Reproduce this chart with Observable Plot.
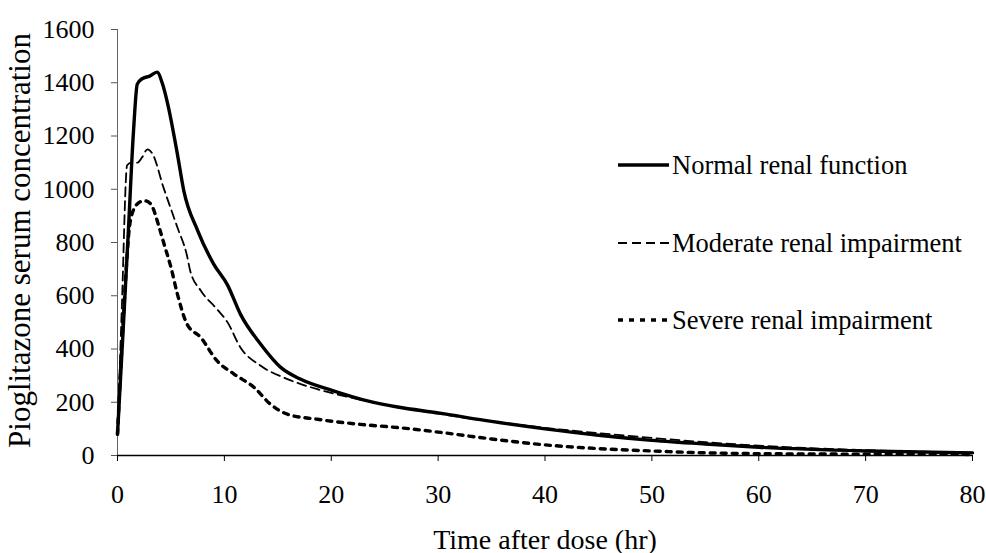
<!DOCTYPE html>
<html><head><meta charset="utf-8">
<script src="https://cdn.jsdelivr.net/npm/d3@7"></script>
<script src="https://cdn.jsdelivr.net/npm/@observablehq/plot@0.6"></script>
<style>
body{margin:0;background:#fff;}
#wrap{position:relative;width:986px;height:553px;font-family:"Liberation Serif","Times New Roman",serif;color:#000;}
.item{position:absolute;left:618px;height:30px;display:flex;align-items:center;white-space:nowrap;font-size:26.5px;}
.item svg{display:block;margin-right:3px;}
</style></head>
<body><div id="wrap"><div id="chart"></div></div>
<script>
// ---- data ----
const seriesNames = ["Normal renal function", "Moderate renal impairment", "Severe renal impairment"];

const normalTime = [0, 0.5, 1, 1.5, 1.85, 2.3, 3.0, 3.7, 4.2, 4.7, 5.6, 6.2, 7.5, 9.0, 10.3, 11.5, 13.4, 15.3, 17.1, 20.2, 23.4, 26.2, 30, 35, 40, 45, 50, 55, 60, 70, 80];
const normalConc = [80, 450, 830, 1220, 1395, 1415, 1425, 1440, 1397, 1320, 1133, 995, 845, 719, 640, 531, 418, 330, 287, 243, 205, 182, 160, 128, 100, 76, 57, 43, 31, 17, 10];

const moderateTime = [0, 0.4, 0.9, 1.3, 1.85, 2.3, 2.8, 3.25, 4.3, 5.6, 6.5, 6.8, 7.8, 9.3, 10.3, 11.5, 13.4, 15.9, 18.7, 21.8, 26.2, 30, 35, 40, 45, 50, 55, 60, 70, 80];
const moderateConc = [80, 550, 1090, 1100, 1100, 1120, 1150, 1135, 1007, 857, 751, 694, 619, 550, 500, 406, 337, 287, 249, 218, 182, 157, 128, 104, 84, 66, 50, 37, 20, 11];

const severeTime = [0, 0.5, 1.2, 1.85, 2.5, 3.1, 3.9, 4.35, 5.0, 5.6, 6.5, 7.8, 9.3, 10.9, 12.8, 14.3, 15.9, 18.7, 22.7, 26.2, 30, 35, 40, 45, 50, 55, 60, 70, 80];
const severeConc = [80, 480, 880, 945, 957, 945, 857, 795, 707, 607, 494, 443, 356, 306, 255, 193, 155, 136, 117, 105, 88, 62, 40, 26, 17, 10, 7, 5, 4];

const xTicks = [0, 10, 20, 30, 40, 50, 60, 70, 80];
const yTicks = [0, 200, 400, 600, 800, 1000, 1200, 1400, 1600];
const xLabel = "Time after dose (hr)";
const yLabel = "Pioglitazone serum concentration";

// ---- build table ----
const pairs = [[normalTime, normalConc], [moderateTime, moderateConc], [severeTime, severeConc]];
const rows = pairs.flatMap(([ts, cs], i) => ts.map((t, j) => ({series: seriesNames[i], t, c: cs[j]})));

const styles = {
  "Normal renal function": {strokeWidth: 3.4, dash: null},
  "Moderate renal impairment": {strokeWidth: 1.8, dash: "9,5"},
  "Severe renal impairment": {strokeWidth: 3.4, dash: "5,6"}
};

const lineMarks = seriesNames.map(name => Plot.line(rows.filter(d => d.series === name), {
  x: "t", y: "c", stroke: "#000", strokeWidth: styles[name].strokeWidth,
  strokeDasharray: styles[name].dash, curve: "monotone-x", strokeLinejoin: "round"
}));

const font = '"Liberation Serif","Times New Roman",serif';
const chart = Plot.plot({
  width: 986, height: 553,
  marginLeft: 117, marginRight: 14, marginTop: 29, marginBottom: 98,
  style: {fontFamily: font, fontSize: "26px", color: "#000", background: "#fff"},
  x: {domain: [0, 80]},
  y: {domain: [0, 1600]},
  marks: [
    Plot.axisX({ticks: xTicks, tickFormat: "d", tickSize: 6, tickPadding: 23, fontSize: 26, label: null, stroke: "#000", fill: "#000"}),
    Plot.axisY({ticks: yTicks, tickFormat: "d", tickSize: 6, tickPadding: 17, fontSize: 26, label: null, stroke: "#555", fill: "#000"}),
    Plot.text([xLabel], {text: d => d, frameAnchor: "bottom", dy: 93, lineAnchor: "bottom", textAnchor: "middle", fontSize: 28, fill: "#000"}),
    Plot.text([yLabel], {text: d => d, frameAnchor: "left", dx: -88, dy: -2, rotate: -90, lineAnchor: "bottom", textAnchor: "middle", fontSize: 31, fill: "#000"}),
    Plot.ruleX([0], {stroke: "#666", strokeWidth: 1}),
    Plot.ruleY([0], {stroke: "#000", strokeWidth: 1.5}),
    ...lineMarks
  ]
});
document.getElementById("chart").appendChild(chart);

// legend (HTML overlay)
const legendY = [165, 243, 320];
const wrap = document.getElementById("wrap");
seriesNames.forEach((name, i) => {
  const div = document.createElement("div");
  div.className = "item";
  div.style.top = (legendY[i] - 15) + "px";
  const s = styles[name];
  div.innerHTML = `<svg width="51" height="10"><line x1="0" x2="51" y1="5" y2="5" stroke="#000" stroke-width="${s.strokeWidth}" ${s.dash ? `stroke-dasharray="${s.dash}"` : ""}/></svg><span>${name}</span>`;
  wrap.appendChild(div);
});
</script>
</body></html>
